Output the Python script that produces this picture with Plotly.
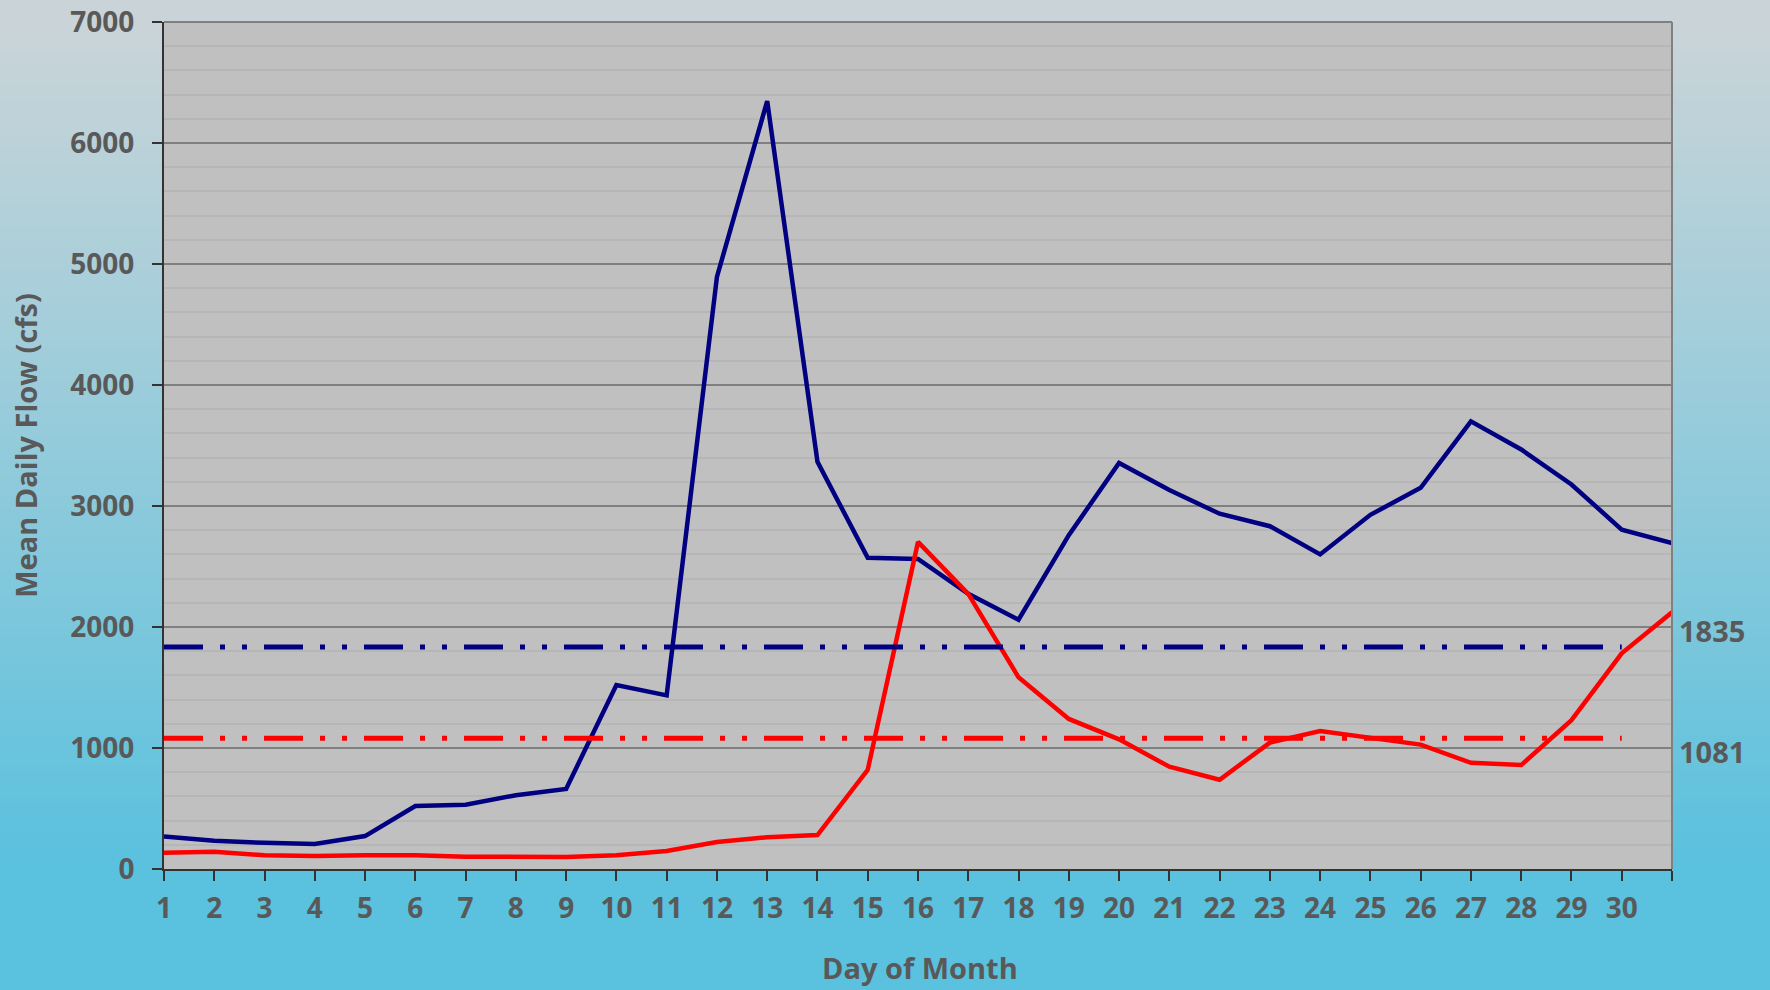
import plotly.graph_objects as go

days = list(range(1, 32))
tick_labels = [str(d) for d in range(1, 31)] + [""]

flow_navy = [268, 234, 216, 207, 272, 521, 531, 610, 662, 1520, 1435, 4893, 6347,
             3365, 2572, 2563, 2274, 2060, 2759, 3355, 3132, 2936, 2833, 2600,
             2927, 3150, 3700, 3467, 3178, 2805, 2694]
flow_red = [135, 143, 113, 107, 113, 113, 102, 102, 99, 113, 149, 223, 262,
            280, 820, 2703, 2274, 1584, 1240, 1072, 845, 738, 1044, 1140,
            1080, 1028, 878, 859, 1230, 1782, 2122]

mean_navy = 1835
mean_red = 1081
mean_days = [1, 30]

y_ticks = [0, 1000, 2000, 3000, 4000, 5000, 6000, 7000]

FONT = "Open Sans"
GRAY = "#595959"
DASH = "39px,17px,5px,17px,5px,17px"

fig = go.Figure()

fig.add_trace(go.Scatter(x=days, y=flow_navy, mode="lines",
                         line=dict(color="#000080", width=4.5), showlegend=False))
fig.add_trace(go.Scatter(x=days, y=flow_red, mode="lines",
                         line=dict(color="#FF0000", width=4.5), showlegend=False))
fig.add_trace(go.Scatter(x=mean_days, y=[mean_navy] * 2, mode="lines",
                         line=dict(color="#000080", width=5, dash=DASH), showlegend=False))
fig.add_trace(go.Scatter(x=mean_days, y=[mean_red] * 2, mode="lines",
                         line=dict(color="#FF0000", width=5, dash=DASH), showlegend=False))

# background gradient (paper) as thin strips
top = (202, 212, 216)
mid = (165, 206, 218)
bot = (90, 193, 222)
shapes = []
n = 120
for i in range(n):
    t = i / (n - 1)  # 0 at top
    if t < 0.35:
        u = t / 0.35
        c = tuple(round(top[k] + (mid[k] - top[k]) * u) for k in range(3))
    else:
        u = (t - 0.35) / 0.65
        c = tuple(round(mid[k] + (bot[k] - mid[k]) * u) for k in range(3))
    y1 = 1 - i / n
    y0 = 1 - (i + 1) / n - 0.002
    shapes.append(dict(type="rect", xref="paper", yref="paper", x0=-0.2, x1=1.2,
                       y0=max(y0, -0.2), y1=y1 if i else 1.2, line=dict(width=0),
                       fillcolor="rgb(%d,%d,%d)" % c, layer="below"))
shapes[-1]["y0"] = -0.2
# plot area fill
shapes.append(dict(type="rect", xref="x domain", yref="y domain", x0=0, x1=1, y0=0, y1=1,
                   line=dict(width=0), fillcolor="#C0C0C0", layer="below"))
# top and right border
shapes.append(dict(type="line", xref="x domain", yref="y domain", x0=0, x1=1, y0=1, y1=1,
                   line=dict(color="#808080", width=2), layer="above"))
shapes.append(dict(type="line", xref="x domain", yref="y domain", x0=1, x1=1, y0=0, y1=1,
                   line=dict(color="#808080", width=2), layer="above"))

fig.update_layout(
    width=1770, height=990,
    margin=dict(l=164, r=98, t=22, b=121, autoexpand=False),
    paper_bgcolor="rgba(0,0,0,0)",
    plot_bgcolor="rgba(0,0,0,0)",
    shapes=shapes,
    font=dict(family=FONT, color=GRAY, size=28),
    xaxis=dict(range=[1, 31], tickvals=days, ticktext=tick_labels, automargin=False,
               ticks="outside", ticklen=10, tickwidth=2, tickcolor="#333333",
               ticklabelstandoff=3,
               showline=True, linecolor="#333333", linewidth=2, showgrid=False,
               zeroline=False, tickfont=dict(family=FONT, size=28, color=GRAY, weight="bold")),
    yaxis=dict(range=[0, 7000], tickvals=y_ticks, ticks="outside", ticklen=10,
               tickwidth=2, tickcolor="#333333", showline=True, linecolor="#333333",
               linewidth=2, showgrid=True, gridcolor="#808080", gridwidth=2,
               zeroline=False, ticklabelstandoff=12, automargin=False,
               minor=dict(dtick=200, showgrid=True, gridcolor="#B6B6B6", gridwidth=2),
               tickfont=dict(family=FONT, size=28, color=GRAY, weight="bold")),
    annotations=[
        dict(text="Mean Daily Flow (cfs)", xref="paper", yref="paper",
             x=-0.092, y=0.5, xanchor="center", yanchor="middle", textangle=-90,
             showarrow=False,
             font=dict(family=FONT, size=29, color=GRAY, weight="bold")),
        dict(text="Day of Month", xref="paper", yref="paper", x=0.501, y=-0.116,
             xanchor="center", yanchor="middle", showarrow=False,
             font=dict(family=FONT, size=29, color=GRAY, weight="bold")),
        dict(text=str(mean_navy), xref="paper", yref="y", x=1.003, y=1975,
             xanchor="left", yanchor="middle", showarrow=False,
             font=dict(family=FONT, size=29, color=GRAY, weight="bold")),
        dict(text=str(mean_red), xref="paper", yref="y", x=1.003, y=970,
             xanchor="left", yanchor="middle", showarrow=False,
             font=dict(family=FONT, size=29, color=GRAY, weight="bold")),
    ],
)

fig.write_html("out.html", config={"displayModeBar": False},
               post_script="document.body.style.margin='0px';"
                           "document.body.style.overflow='hidden';")
